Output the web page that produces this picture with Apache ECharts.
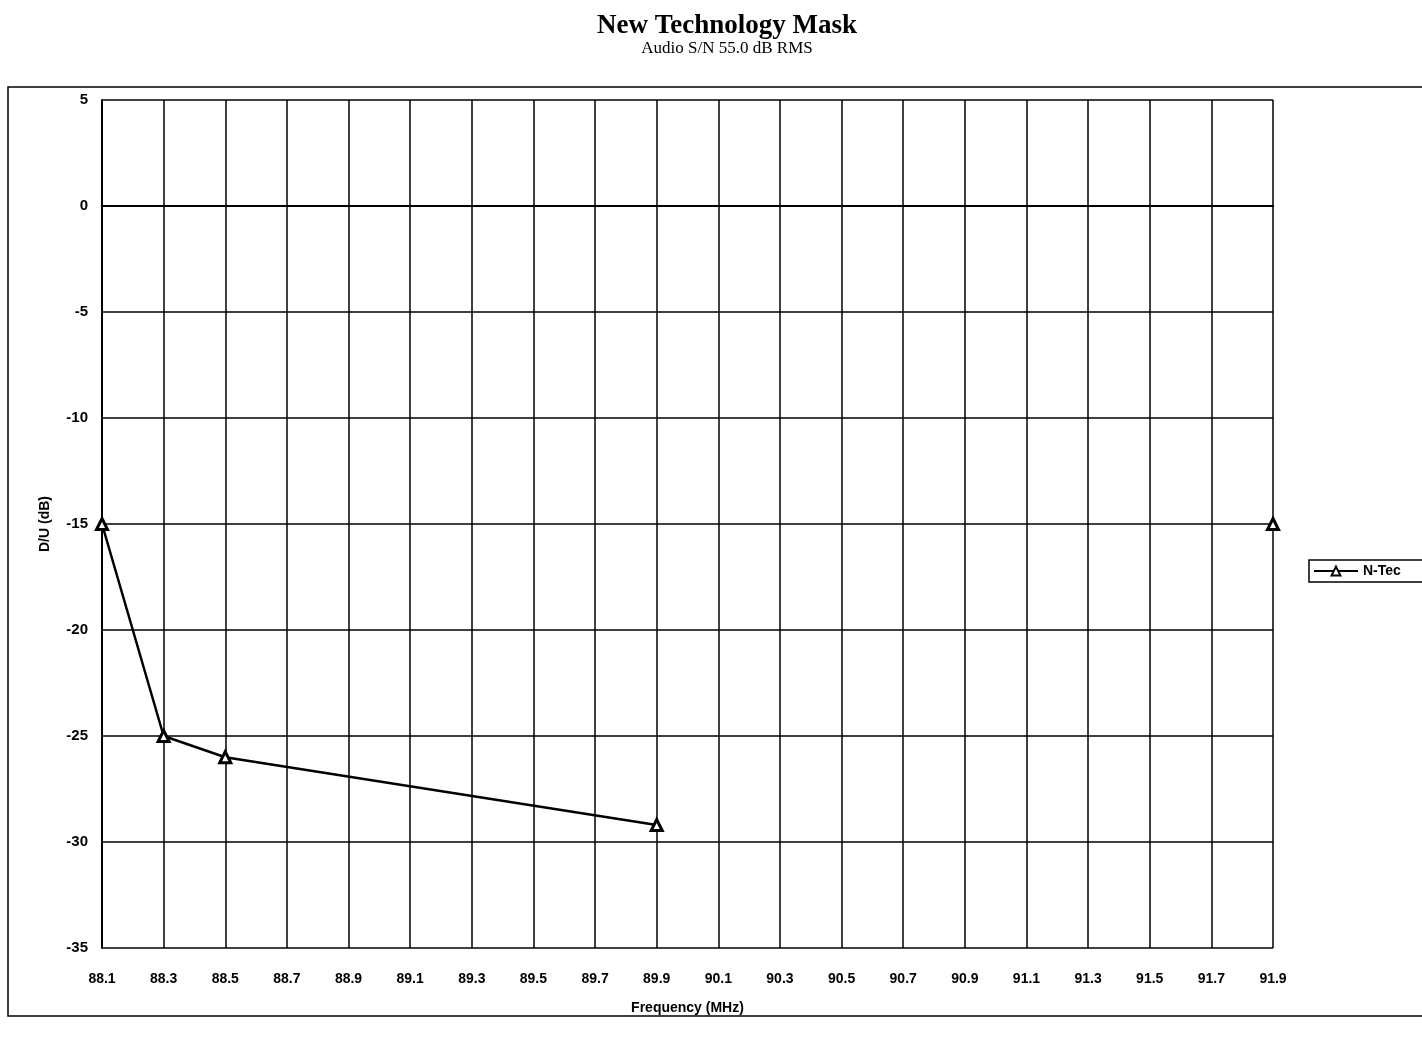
<!DOCTYPE html>
<html>
<head>
<meta charset="utf-8">
<script src="https://cdn.jsdelivr.net/npm/echarts@6/dist/echarts.min.js"></script>
<style>html,body{margin:0;padding:0;background:#fff;}#c{width:1422px;height:1044px;}</style>
</head>
<body>
<div id="c"></div>
<script>
const categories = ['88.1','88.3','88.5','88.7','88.9','89.1','89.3','89.5','89.7','89.9','90.1','90.3','90.5','90.7','90.9','91.1','91.3','91.5','91.7','91.9'];
const pointFreqs = ['88.1','88.3','88.5','89.9','90.1','91.9'];
const pointValues = [-15, -25, -26, -29.2, null, -15];
const yTicks = {min: -35, max: 5, interval: 5};

const chart = echarts.init(document.getElementById('c'));
const data = pointFreqs.map((f, i) => [f, pointValues[i] === null ? '-' : pointValues[i]]);
chart.setOption({
  backgroundColor: '#fff',
  animation: false,
  title: {
    text: 'New Technology Mask',
    subtext: 'Audio S/N 55.0 dB RMS',
    left: 722, top: 8, textAlign: 'center',
    itemGap: 0,
    textStyle: {fontFamily: 'Liberation Serif', fontWeight: 'bold', fontSize: 27, color: '#000'},
    subtextStyle: {fontFamily: 'Liberation Serif', fontSize: 17, color: '#000'}
  },
  graphic: [{
    type: 'rect', shape: {x: 8, y: 87, width: 1430, height: 929},
    style: {fill: 'none', stroke: '#000', lineWidth: 1.5}, silent: true, z: -1
  }],
  legend: {
    data: ['N-Tec'], left: 1309, top: 560,
    itemWidth: 44, itemHeight: 11, itemGap: 4,
    padding: [4, 22, 4, 4],
    borderColor: '#000', borderWidth: 1.5,
    textStyle: {fontFamily: 'Liberation Sans', fontWeight: 'bold', fontSize: 14, color: '#000'}
  },
  grid: {left: 102, right: 149, top: 100, bottom: 96},
  xAxis: {
    type: 'category', data: categories, boundaryGap: false,
    name: 'Frequency (MHz)', nameLocation: 'middle', nameGap: 53,
    nameTextStyle: {fontFamily: 'Liberation Sans', fontWeight: 'bold', fontSize: 14, color: '#000'},
    axisLine: {lineStyle: {color: '#000', width: 2}},
    axisTick: {show: false},
    axisLabel: {margin: 24, fontFamily: 'Liberation Sans', fontWeight: 'bold', fontSize: 14, color: '#000', interval: 0},
    splitLine: {show: true, lineStyle: {color: '#000', width: 1.5}}
  },
  yAxis: {
    type: 'value', min: yTicks.min, max: yTicks.max, interval: yTicks.interval,
    name: 'D/U (dB)', nameLocation: 'middle', nameGap: 50, nameRotate: 90,
    nameTextStyle: {fontFamily: 'Liberation Sans', fontWeight: 'bold', fontSize: 14, color: '#000'},
    axisLine: {show: true, lineStyle: {color: '#000', width: 2}},
    axisTick: {show: false},
    axisLabel: {margin: 14, fontFamily: 'Liberation Sans', fontWeight: 'bold', fontSize: 15, color: '#000'},
    splitLine: {show: true, lineStyle: {color: '#000', width: 1.5}}
  },
  series: [{
    name: 'N-Tec', type: 'line', data: data, connectNulls: false,
    symbol: 'triangle', symbolSize: 11, showAllSymbol: true,
    lineStyle: {color: '#000', width: 2.5},
    itemStyle: {color: '#fff', borderColor: '#000', borderWidth: 3}
  }]
});
</script>
</body>
</html>
